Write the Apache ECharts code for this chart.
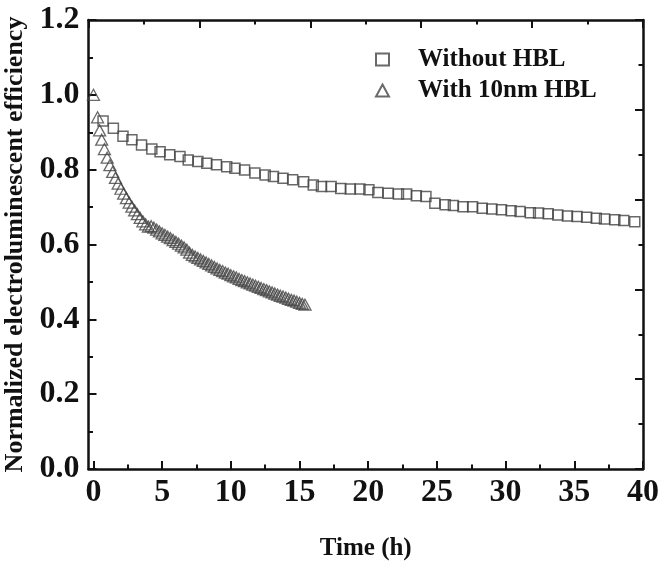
<!DOCTYPE html>
<html>
<head>
<meta charset="utf-8">
<script src="https://cdn.jsdelivr.net/npm/echarts@6/dist/echarts.min.js"></script>
<style>
  html, body { margin: 0; padding: 0; background: #fff; }
  #chart { width: 660px; height: 563px; }
</style>
</head>
<body>
<div id="chart"></div>
<script>
// Time (h) and normalized EL efficiency, device without hole-blocking layer
const timeWithout = [0.7, 1.45, 2.15, 2.8, 3.5, 4.25, 4.85, 5.55, 6.3, 6.9, 7.6, 8.25, 8.95, 9.7, 10.3, 11.0,
  11.75, 12.5, 13.1, 13.8, 14.5, 15.3, 16.0, 16.6, 17.3, 18.0, 18.7, 19.4, 20.05, 20.7, 21.45, 22.2, 22.8,
  23.5, 24.2, 24.85, 25.6, 26.2, 26.9, 27.6, 28.3, 29.0, 29.7, 30.4, 31.05, 31.8, 32.4, 33.1, 33.8, 34.5,
  35.2, 35.9, 36.6, 37.2, 37.95, 38.6, 39.4];
const effWithout = [0.930, 0.911, 0.889, 0.880, 0.866, 0.855, 0.848, 0.840, 0.835, 0.826, 0.822, 0.817, 0.813,
  0.808, 0.804, 0.799, 0.791, 0.786, 0.782, 0.777, 0.773, 0.768, 0.759, 0.755, 0.755, 0.750, 0.748, 0.748,
  0.746, 0.739, 0.737, 0.735, 0.735, 0.730, 0.728, 0.710, 0.706, 0.704, 0.701, 0.701, 0.697, 0.695, 0.693,
  0.690, 0.688, 0.685, 0.684, 0.682, 0.679, 0.676, 0.675, 0.673, 0.670, 0.668, 0.666, 0.664, 0.661];

// Device with a 10 nm hole-blocking layer
const timeWith = [0.0, 0.3, 0.45, 0.6, 0.8, 1.0, 1.2, 1.4, 1.6, 1.8, 2.0, 2.2, 2.4, 2.6, 2.8, 3.0, 3.2, 3.4,
  3.6, 3.8, 4.0, 4.2, 4.4, 4.6, 4.8, 5.0, 5.2, 5.4, 5.6, 5.8, 6.0, 6.2, 6.4, 6.6, 6.8, 7.0, 7.2, 7.4, 7.6,
  7.8, 8.0, 8.2, 8.4, 8.6, 8.8, 9.0, 9.2, 9.4, 9.6, 9.8, 10.0, 10.2, 10.4, 10.6, 10.8, 11.0, 11.2, 11.4,
  11.6, 11.8, 12.0, 12.2, 12.4, 12.6, 12.8, 13.0, 13.2, 13.4, 13.6, 13.8, 14.0, 14.2, 14.4, 14.6, 14.8,
  15.0, 15.2, 15.4];
const effWith = [1.000, 0.940, 0.905, 0.880, 0.855, 0.832, 0.812, 0.794, 0.778, 0.763, 0.749, 0.736, 0.724,
  0.712, 0.701, 0.691, 0.681, 0.671, 0.662, 0.654, 0.648, 0.649, 0.645, 0.640, 0.635, 0.630, 0.626, 0.621,
  0.617, 0.612, 0.607, 0.602, 0.597, 0.592, 0.586, 0.578, 0.572, 0.568, 0.564, 0.560, 0.556, 0.552, 0.548,
  0.544, 0.540, 0.536, 0.532, 0.529, 0.525, 0.522, 0.518, 0.515, 0.512, 0.508, 0.505, 0.502, 0.499, 0.496,
  0.493, 0.490, 0.487, 0.484, 0.481, 0.478, 0.475, 0.472, 0.469, 0.466, 0.463, 0.461, 0.458, 0.455, 0.452,
  0.450, 0.447, 0.444, 0.441, 0.439];

const seriesNames = ['Without HBL', 'With 10nm HBL'];
const xMajorTicks = [0, 5, 10, 15, 20, 25, 30, 35, 40];
const xMinorTicks = [2.5, 7.5, 12.5, 17.5, 22.5, 27.5, 32.5, 37.5];

const FONT = 'Liberation Serif, Times New Roman, serif';
const INK = '#111';
const MARK = '#444';

const pair = (xs, ys) => xs.map((x, i) => [x, ys[i]]);

const frameLine = { show: true, onZero: false, lineStyle: { color: INK, width: 2.5 } };
const majorTick = (extra) => Object.assign({ show: true, inside: true, length: 8, lineStyle: { color: INK, width: 2 } }, extra || {});
const minorTick = { show: true, splitNumber: 2, length: 4.5, lineStyle: { color: INK, width: 2 } };

const chart = echarts.init(document.getElementById('chart'), null, { renderer: 'canvas' });
chart.setOption({
  backgroundColor: '#fff',
  animation: false,
  grid: { left: 88.5, right: 17, top: 20, bottom: 94, containLabel: false, outerBoundsMode: 'none' },
  legend: {
    orient: 'vertical',
    left: 370,
    top: 42,
    itemGap: 6,
    itemWidth: 13,
    itemHeight: 12,
    data: seriesNames,
    textStyle: { fontFamily: FONT, fontWeight: 'bold', fontSize: 25, color: INK, padding: [0, 0, 0, 24] }
  },
  xAxis: [
    {
      type: 'value', position: 'bottom', min: -0.36, max: 40,
      axisLine: frameLine,
      axisTick: majorTick({ customValues: xMajorTicks }),
      axisLabel: { customValues: xMajorTicks, fontFamily: FONT, fontWeight: 'bold', fontSize: 32, color: INK, margin: 8 },
      splitLine: { show: false },
      name: 'Time (h)', nameLocation: 'middle', nameGap: 67,
      nameTextStyle: { fontFamily: FONT, fontWeight: 'bold', fontSize: 25, color: INK }
    },
    {
      type: 'value', position: 'bottom', min: -0.36, max: 40,
      axisLine: { show: false, onZero: false },
      axisTick: { show: true, inside: true, length: 4.5, customValues: xMinorTicks, lineStyle: { color: INK, width: 2 } },
      axisLabel: { show: false },
      splitLine: { show: false }
    },
    {
      type: 'value', position: 'top', min: 0, max: 5, interval: 1,
      axisLine: frameLine,
      axisTick: majorTick(),
      minorTick: minorTick,
      axisLabel: { show: false },
      splitLine: { show: false }, minorSplitLine: { show: false }
    }
  ],
  yAxis: [
    {
      type: 'value', position: 'left', min: 0, max: 1.2, interval: 0.2,
      axisLine: frameLine,
      axisTick: majorTick(),
      minorTick: minorTick,
      axisLabel: { formatter: v => v.toFixed(1), fontFamily: FONT, fontWeight: 'bold', fontSize: 32, color: INK, margin: 9 },
      splitLine: { show: false }, minorSplitLine: { show: false },
      name: 'Normalized electroluminescent efficiency', nameLocation: 'middle', nameGap: 54,
      nameTextStyle: { fontFamily: FONT, fontWeight: 'bold', fontSize: 26, color: INK }
    },
    {
      type: 'value', position: 'right', min: 0, max: 5, interval: 1,
      axisLine: frameLine,
      axisTick: majorTick(),
      minorTick: minorTick,
      axisLabel: { show: false },
      splitLine: { show: false }, minorSplitLine: { show: false }
    }
  ],
  series: [
    {
      name: seriesNames[0], type: 'scatter', xAxisIndex: 0, yAxisIndex: 0,
      symbol: 'rect', symbolSize: 10,
      itemStyle: { color: 'rgba(255,255,255,0)', borderColor: MARK, borderWidth: 1.5 },
      data: pair(timeWithout, effWithout)
    },
    {
      name: seriesNames[1], type: 'scatter', xAxisIndex: 0, yAxisIndex: 0,
      symbol: 'triangle', symbolSize: [12, 11],
      itemStyle: { color: 'rgba(255,255,255,0)', borderColor: MARK, borderWidth: 1.3 },
      data: pair(timeWith, effWith)
    }
  ]
});
</script>
</body>
</html>
